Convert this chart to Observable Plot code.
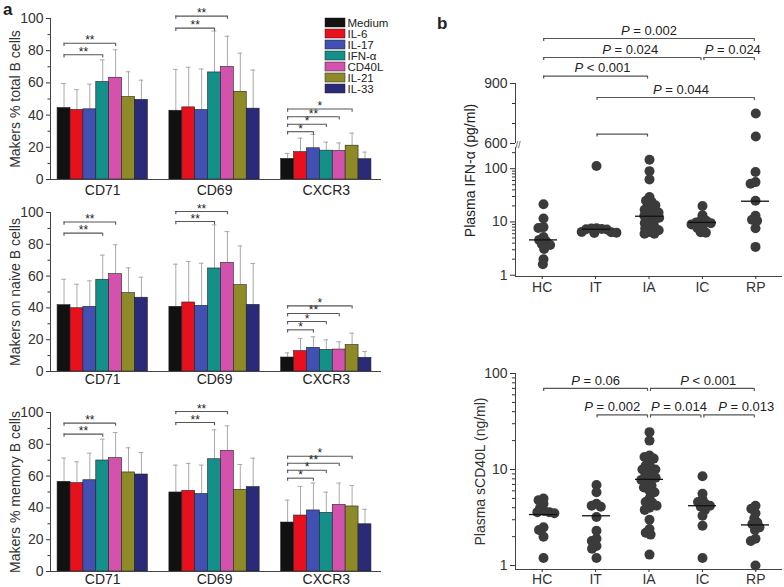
<!DOCTYPE html>
<html><head><meta charset="utf-8">
<script src="https://cdn.jsdelivr.net/npm/d3@7"></script>
<script src="https://cdn.jsdelivr.net/npm/@observablehq/plot@0.6"></script>
<style>
body{margin:0;background:#fff;}
#root{position:relative;width:784px;height:587px;overflow:hidden;font-family:"Liberation Sans",Arial,sans-serif;color:#222;}
.lbl{position:absolute;font-weight:bold;font-size:17px;line-height:normal;font-family:"Liberation Sans",Arial,sans-serif;}
</style></head><body><div id="root"></div>
<script>
// ---------- Panel a data ----------
const cytokines = ["Medium","IL-6","IL-17","IFN-α","CD40L","IL-21","IL-33"];
const cytokineColors = ["#111111","#e8101c","#4150b2","#14908a","#d352ae","#8e8a28","#2a2a78"];
const markers = ["CD71","CD69","CXCR3"];

const totalMean = [[44.4,43.2,43.6,60.6,63.2,51.2,49.5],[42.7,44.8,43.2,66.5,69.9,54.5,44.0],[12.8,17.0,19.4,17.9,17.7,21.0,12.6]];
const totalErrTop = [[59.6,55.8,59.2,74.3,80.6,66.9,61.7],[68.4,69.7,68.6,92.2,89.0,78.5,68.0],[16.2,25.7,28.0,23.2,22.7,28.8,17.0]];
const totalSig = [["CD71","CD40L",84.6,"**"],["CD71","IFN-α",77.5,"**"],["CD69","CD40L",101.5,"**"],["CD69","IFN-α",94,"**"],["CXCR3","IL-21",43.8,"*"],["CXCR3","CD40L",39,"**"],["CXCR3","IFN-α",34.3,"*"],["CXCR3","IL-17",29.7,"*"]];

const naiveMean = [[41.7,39.8,40.7,57.7,61.2,49.3,46.4],[40.7,43.4,41.3,64.8,68.3,54.3,41.9],[8.8,12.8,14.9,13.6,13.8,16.6,8.6]];
const naiveErrTop = [[58.0,54.9,57.0,73.2,79.7,65.2,59.3],[67.5,69.2,68.1,92.2,88.0,79.0,67.9],[11.7,20.8,21.8,19.9,18.7,24.1,12.6]];
const naiveSig = [["CD71","CD40L",94,"**"],["CD71","IFN-α",87,"**"],["CD69","CD40L",100.6,"**"],["CD69","IFN-α",94.3,"**"],["CXCR3","IL-21",41.3,"*"],["CXCR3","CD40L",36.5,"**"],["CXCR3","IFN-α",31.4,"*"],["CXCR3","IL-17",26.2,"*"]];

const memoryMean = [[56.4,55.6,57.4,69.8,71.3,62.3,61.0],[49.7,50.7,48.8,70.6,75.9,51.4,53.1],[30.8,35.2,38.4,36.9,41.9,40.9,29.7]];
const memoryErrTop = [[71.3,69.0,74.4,83.2,87.4,77.8,74.8],[66.9,68.0,66.9,89.1,91.6,67.3,71.3],[44.9,53.5,55.6,49.9,55.6,54.1,39.1]];
const memorySig = [["CD71","CD40L",93.3,"**"],["CD71","IFN-α",86.4,"**"],["CD69","CD40L",100.6,"**"],["CD69","IFN-α",93.7,"**"],["CXCR3","IL-21",72.5,"*"],["CXCR3","CD40L",68.1,"**"],["CXCR3","IFN-α",63.7,"*"],["CXCR3","IL-17",58.7,"*"]];

// ---------- Panel b data ----------
const groups = ["HC","IT","IA","IC","RP"];
const ifnHC = [21.5,11.6,8,7.7,5.2,4.6,4.3,3.8,3.7,3.1,2,1.6];
const ifnIT = [112,7.6,7.5,7.4,7.3,7.2,6.5,6.4,6.3,6.2];
const ifnIA = [147,90,63,29.5,25,24,20.6,18.4,17,16,15,14.4,13,12.5,12,11,10,9.5,8.5,8,7.5,7,6.5,6,6];
const ifnIC = [20,13.4,10.8,10.5,9.8,9.5,9,7.9,7.7,6.4,6.3];
const ifnRP = [750,635,87,56,52,25,13,11,10.5,7.6,3.4];
const ifnMedian = [4.6,7.3,12.8,9.8,24.5];
const ifnTests = [["HC","RP",1125,"P = 0.002"],["HC","IC",1030,"P = 0.024"],["IC","RP",1030,"P = 0.024"],["HC","IA",937,"P < 0.001"],["IT","RP",830,"P = 0.044"],["IT","IA",647,""]];

const cd40HC = [5.0,4.8,4.4,4.0,3.7,3.6,3.6,3.5,2.5,2.35,2.0,1.2];
const cd40IT = [6.9,5.8,4.4,4.2,4.1,3.2,2.3,1.9,1.8,1.6,1.5,1.2];
const cd40IA = [24.5,20,14,13.5,13,12,11,10.5,10,10,9.5,9,8.5,8.2,8,7.8,7.2,6.8,6.5,6,5.8,5,4.6,4.5,4.2,4,3.8,3,2.4,2.2,2.1,1.3];
const cd40IC = [8.5,5.6,4.9,4.6,4.4,4.2,4.1,3.8,3.3,2.6,1.2];
const cd40RP = [4.2,3.9,3.5,3.1,2.8,2.7,2.5,2.35,1.9,1.8,1.0];
const cd40Median = [3.4,3.3,7.9,4.2,2.65];
const cd40Tests = [["HC","IA",70,"P = 0.06"],["IA","RP",70,"P < 0.001"],["IT","IA",37,"P = 0.002"],["IA","IC",37,"P = 0.014"],["IC","RP",37,"P = 0.013"]];

// ---------- helpers ----------
const root = document.getElementById("root");
const FONT = '"Liberation Sans", Arial, sans-serif';
const baseStyle = {background: "transparent", overflow: "visible", fontSize: "14px", fontFamily: FONT, color: "#333"};
function place(node, left, top) {
  node.style.position = "absolute";
  node.style.left = left + "px";
  node.style.top = top + "px";
  root.appendChild(node);
  return node;
}
function italicP(svg) {
  const ns = "http://www.w3.org/2000/svg";
  svg.querySelectorAll("text").forEach(t => {
    if (t.childElementCount) return;
    const s = t.textContent;
    if (/^P [=<]/.test(s)) {
      t.textContent = "";
      const a = document.createElementNS(ns, "tspan");
      a.setAttribute("font-style", "italic");
      a.textContent = "P";
      t.appendChild(a);
      t.appendChild(document.createTextNode(s.slice(1)));
    }
  });
  return svg;
}

// ---------- Panel a ----------
const G = 8.67; // group spacing in bar widths
function panelA(mean, errTop, sig, yLabel, top, height, marginTop, marginBottom, labelDy) {
  const rows = [];
  markers.forEach((m, gi) => cytokines.forEach((c, ci) =>
    rows.push({marker: m, cytokine: c, slot: gi * G + ci, mean: mean[gi][ci], err: errTop[gi][ci]})));
  const center = (m, c) => markers.indexOf(m) * G + cytokines.indexOf(c) + 0.5;
  const br = sig.map(([m, c, y, s]) => ({x1: center(m, "Medium"), x2: center(m, c), y, s}));
  const xmin = -0.55;
  const svg = Plot.plot({
    width: 400, height, marginLeft: 50, marginRight: 19, marginTop, marginBottom,
    style: baseStyle,
    x: {domain: [xmin, 2 * G + 7 + 0.78], axis: null},
    y: {domain: [0, 100], axis: null},
    color: {domain: cytokines, range: cytokineColors},
    marks: [
      Plot.ruleX(rows, {x: d => d.slot + 0.5, y1: "mean", y2: "err", stroke: "#a9a9a9", strokeWidth: 1}),
      Plot.ruleY(rows, {x1: d => d.slot + 0.32, x2: d => d.slot + 0.68, y: "err", stroke: "#a9a9a9", strokeWidth: 1}),
      Plot.rectY(rows, {x1: "slot", x2: d => d.slot + 1, y: "mean", fill: "cytokine", stroke: "#222", strokeWidth: 0.6}),
      Plot.ruleY(br, {x1: "x1", x2: "x2", y: "y", stroke: "#555", strokeWidth: 1.1}),
      Plot.ruleX(br, {x: "x1", y1: "y", y2: d => d.y - 2, stroke: "#555", strokeWidth: 1.1}),
      Plot.ruleX(br, {x: "x2", y1: "y", y2: d => d.y - 2, stroke: "#555", strokeWidth: 1.1}),
      Plot.text(br, {x: d => (d.x1 + d.x2) / 2, y: "y", text: "s", dy: 1, lineAnchor: "bottom", fontSize: 12, fill: "#222"}),
      Plot.ruleY([0], {stroke: "#444"}),
      Plot.ruleX([xmin], {stroke: "#444"}),
      Plot.axisY({ticks: [0, 20, 40, 60, 80, 100], tickSize: 4, tickPadding: 3, label: yLabel, labelAnchor: "center", labelOffset: 40, labelArrow: false}),
      Plot.axisY({ticks: [10, 30, 50, 70, 90], tickSize: 2.5, tickFormat: () => "", label: null}),
      Plot.text(markers, {x: (d, i) => i * G + 3.5, y: () => 0, text: d => d, dy: labelDy, fontSize: 14, fill: "#222"})
    ]
  });
  return place(svg, 0, top);
}
panelA(totalMean, totalErrTop, totalSig, "Makers % total B cells", 0, 200, 18, 21, 11);
panelA(naiveMean, naiveErrTop, naiveSig, "Makers on naive B cells", 193, 200, 19, 22, 8);
panelA(memoryMean, memoryErrTop, memorySig, "Makers % memory B cells", 393, 194, 19, 16, 8);

// legend (top panel)
place(Plot.plot({
  width: 100, height: 86, marginLeft: 5, marginRight: 75, marginTop: 6.7, marginBottom: 1,
  style: baseStyle,
  x: {type: "band", domain: ["sw"], padding: 0, axis: null},
  y: {type: "band", domain: cytokines, padding: 0, axis: null},
  color: {domain: cytokines, range: cytokineColors},
  marks: [
    Plot.cell(cytokines, {x: () => "sw", y: d => d, fill: d => d, stroke: "#222", strokeWidth: 0.5, insetTop: 1, insetBottom: 1}),
    Plot.text(cytokines, {x: () => "sw", y: d => d, text: d => d, dx: 12, textAnchor: "start", fontSize: 11.5, fill: "#222"})
  ]
}), 320, 10);

// ---------- Panel b ----------
function rowsOf(valuesList) {
  return groups.flatMap((g, i) => valuesList[i].map(v => ({group: g, value: v})));
}
const gi = g => groups.indexOf(g);
// horizontal nudges of the P-value labels (in group steps), matching the reference placement
const ifnLabelShift = [0, 0.15, 0.07, 0.13, 0.1, 0];
const cd40LabelShift = [0, 0.11, -0.19, 0.06, 0.32];
function bracketMarks(tests, down, shifts) {
  const rows = tests.map(([a, b, y, label], i) => ({a: gi(a), b: gi(b), y, label, shift: shifts[i]}));
  const st = {stroke: "#555", strokeWidth: 1.2};
  return [
    Plot.ruleY(rows, {x1: "a", x2: "b", y: "y", insetLeft: 1.5, insetRight: 1.5, ...st}),
    Plot.ruleX(rows, {x: "a", y1: "y", y2: d => down(d.y), dx: 1.5, ...st}),
    Plot.ruleX(rows, {x: "b", y1: "y", y2: d => down(d.y), dx: -1.5, ...st}),
    Plot.text(rows.filter(d => d.label), {x: d => (d.a + d.b) / 2 + d.shift, y: "y", text: "label", dy: -8, fontSize: 13, fill: "#222"})
  ];
}
const bxDomain = [-0.5, 4.5];
const bWidth = 364, bLeft = 420, bML = 95, bMR = 2;
function dotOverlay(rows, medians, yScale, height, marginTop, marginBottom, top) {
  const med = groups.map((g, i) => ({group: g, median: medians[i]}));
  return place(Plot.plot({
    width: bWidth, height, marginLeft: bML, marginRight: bMR, marginTop, marginBottom,
    style: baseStyle,
    fx: {domain: groups, paddingInner: 0.1, paddingOuter: 0.05, axis: null},
    y: {...yScale, axis: null},
    marks: [
      Plot.dot(rows, Plot.dodgeX({anchor: "middle", padding: -4.8}, {fx: "group", y: "value", r: 5, fill: "#3b3b3b"})),
      Plot.tickY(med, {fx: "group", y: "median", insetLeft: 10, insetRight: 10, stroke: "#111", strokeWidth: 1.3})
    ]
  }), bLeft, top);
}

// IFN-alpha upper (broken axis segment)
const ifnRows = rowsOf([ifnHC, ifnIT, ifnIA, ifnIC, ifnRP]);
place(italicP(Plot.plot({
  width: bWidth, height: 143, marginLeft: bML, marginRight: bMR, marginTop: 83, marginBottom: 0,
  style: baseStyle,
  x: {domain: bxDomain, axis: null},
  y: {domain: [600, 900], axis: null},
  marks: [
    ...bracketMarks(ifnTests, y => y - 15, ifnLabelShift),
    Plot.dot(ifnRows.filter(d => d.value >= 600), {x: d => gi(d.group), y: "value", r: 5, fill: "#3b3b3b"}),
    Plot.ruleX([-0.5], {stroke: "#444"}),
    Plot.axisY({ticks: [600, 900], tickSize: 5, tickPadding: 3, label: null}),
    Plot.axisY({ticks: [700, 800], tickSize: 3, tickFormat: () => "", label: null}),
    Plot.text([600], {y: d => d, frameAnchor: "left", text: () => "//", dy: 2, fontSize: 9, fill: "#444"})
  ]
})), bLeft, 0);

// IFN-alpha lower (log)
const ifnLowY = {type: "log", domain: [0.945, 250]};
const ifnLowRows = ifnRows.filter(d => d.value < 600);
place(Plot.plot({
  width: bWidth, height: 154, marginLeft: bML, marginRight: bMR, marginTop: 4, marginBottom: 21,
  style: baseStyle,
  x: {domain: bxDomain, axis: null},
  y: {...ifnLowY, axis: null},
  marks: [
    Plot.ruleX([-0.5], {stroke: "#444"}),
    Plot.ruleY([0.945], {stroke: "#444"}),
    Plot.axisY({ticks: [1, 10, 100], tickSize: 5, tickPadding: 3, tickFormat: d => String(d), label: null}),
    Plot.axisY({ticks: [2,3,4,5,6,7,8,9,20,30,40,50,60,70,80,90,200], tickSize: 3, tickFormat: () => "", label: null}),
    Plot.axisX({ticks: [0, 1, 2, 3, 4], tickFormat: d => groups[d], tickSize: 3, tickPadding: 3, label: null}),
    Plot.text(["Plasma IFN-α (pg/ml)"], {frameAnchor: "top-left", text: d => d, rotate: -90, textAnchor: "middle", lineAnchor: "middle", dx: -45, dy: 23, fontSize: 14, fill: "#222"})
  ]
}), bLeft, 143);
dotOverlay(ifnLowRows, ifnMedian, ifnLowY, 154, 4, 21, 143);

// sCD40L
const cd40Rows = rowsOf([cd40HC, cd40IT, cd40IA, cd40IC, cd40RP]);
const cd40Y = {type: "log", domain: [0.91, 100]};
place(italicP(Plot.plot({
  width: bWidth, height: 227, marginLeft: bML, marginRight: bMR, marginTop: 13, marginBottom: 18,
  style: baseStyle,
  x: {domain: bxDomain, axis: null},
  y: {...cd40Y, axis: null},
  marks: [
    ...bracketMarks(cd40Tests, y => y * 0.93, cd40LabelShift),
    Plot.ruleX([-0.5], {stroke: "#444"}),
    Plot.ruleY([0.91], {stroke: "#444"}),
    Plot.axisY({ticks: [1, 10, 100], tickSize: 5, tickPadding: 3, tickFormat: d => String(d), label: "Plasma sCD40L (ng/ml)", labelAnchor: "center", labelOffset: 40, labelArrow: false}),
    Plot.axisY({ticks: [2,3,4,5,6,7,8,9,20,30,40,50,60,70,80,90], tickSize: 3, tickFormat: () => "", label: null}),
    Plot.axisX({ticks: [0, 1, 2, 3, 4], tickFormat: d => groups[d], tickSize: 3, tickPadding: 2, label: null})
  ]
})), bLeft, 360);
dotOverlay(cd40Rows, cd40Median, cd40Y, 227, 13, 18, 360);

// panel letters
const la = document.createElement("div"); la.className = "lbl"; la.textContent = "a"; place(la, 3, 0);
const lb = document.createElement("div"); lb.className = "lbl"; lb.textContent = "b"; place(lb, 437, 14);
</script></body></html>
